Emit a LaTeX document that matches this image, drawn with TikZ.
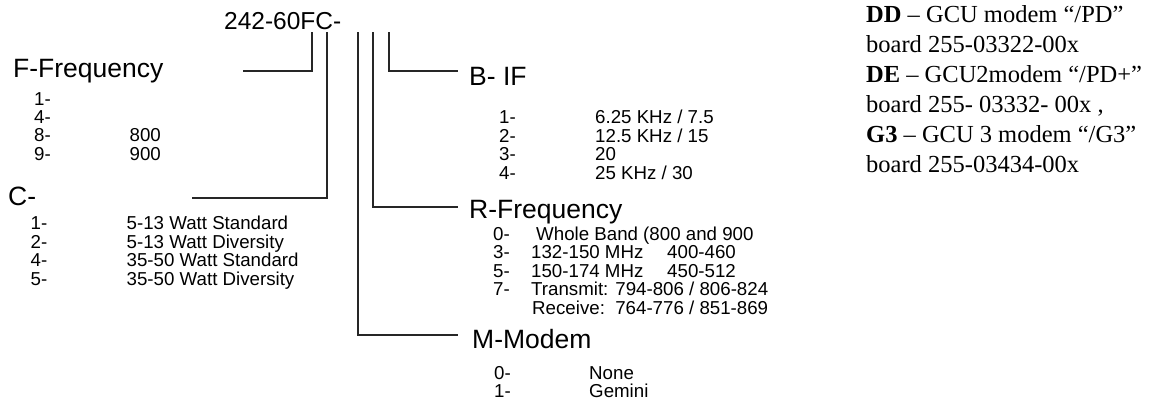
\documentclass[tikz,border=0pt]{standalone}
\usepackage{fontspec}
\setmainfont{Liberation Serif}
\setsansfont{Liberation Sans}
\begin{document}
\begin{tikzpicture}[x=1pt,y=-1pt,
  small/.style={inner sep=0pt, anchor=base west, font=\sffamily\fontsize{18.7}{18.7}\selectfont},
  head/.style={inner sep=0pt, anchor=base west, font=\sffamily\fontsize{26.5}{26.5}\selectfont},
  conn/.style={draw=black!85, line width=1.1pt},
  note/.style={inner sep=0pt, anchor=base west, font=\rmfamily\fontsize{24.5}{24.5}\selectfont}]
\useasboundingbox (0,0) rectangle (1173,400);
% title
\node[inner sep=0pt, anchor=base west, font=\sffamily\fontsize{24.5}{24.5}\selectfont] (title) at (224,29.5) {242-60FC-};
% headings
\node[head] (fhead) at (13,77) {F-Frequency};
\node[head] (chead) at (8,205.5) {C-};
\node[head] (bhead) at (469,85) {B- IF};
\node[head] (rhead) at (469,218) {R-Frequency};
\node[head] (mhead) at (472,348.5) {M-Modem};
% connector end points
\coordinate (tF) at (312,32);
\coordinate (tC) at (327,32);
\coordinate (tM) at (358,32);
\coordinate (tR) at (373,32);
\coordinate (tB) at (389,32);
\coordinate (eF) at (243,71);
\coordinate (eC) at (192,198);
\coordinate (eB) at (458,71);
\coordinate (eR) at (458,207);
\coordinate (eM) at (458,335);
\draw[conn] (tF) |- (eF);
\draw[conn] (tC) |- (eC);
\draw[conn] (tM) |- (eM);
\draw[conn] (tR) |- (eR);
\draw[conn] (tB) |- (eB);
% F list
\node[small] (f1) at (34,105) {1-};
\node[small] (f4) at (34,123.3) {4-};
\node[small] (f8) at (34,141.7) {8-};
\node[small] (f8v) at (129.5,141.7) {800};
\node[small] (f9) at (34,160) {9-};
\node[small] (f9v) at (129.5,160) {900};
% C list
\node[small] (c1) at (30.5,229.5) {1-};
\node[small] (c1v) at (126.5,229.5) {5-13 Watt Standard};
\node[small] (c2) at (30.5,248) {2-};
\node[small] (c2v) at (126.5,248) {5-13 Watt Diversity};
\node[small] (c4) at (30.5,266.5) {4-};
\node[small] (c4v) at (126.5,266.5) {35-50 Watt Standard};
\node[small] (c5) at (30.5,285) {5-};
\node[small] (c5v) at (126.5,285) {35-50 Watt Diversity};
% B list
\node[small] (b1) at (499,123.5) {1-};
\node[small] (b1v) at (595,123.5) {6.25 KHz / 7.5};
\node[small] (b2) at (499,142) {2-};
\node[small] (b2v) at (595,142) {12.5 KHz / 15};
\node[small] (b3) at (499,160.5) {3-};
\node[small] (b3v) at (595,160.5) {20};
\node[small] (b4) at (499,179) {4-};
\node[small] (b4v) at (595,179) {25 KHz / 30};
% R list
\node[small] (r0) at (493,240) {0-};
\node[small] (r0v) at (536,240) {Whole Band (800 and 900};
\node[small] (r3) at (493,258.5) {3-};
\node[small] (r3v) at (531,258.5) {132-150 MHz};
\node[small] (r3w) at (667,258.5) {400-460};
\node[small] (r5) at (493,277) {5-};
\node[small] (r5v) at (531,277) {150-174 MHz};
\node[small] (r5w) at (667,277) {450-512};
\node[small] (r7) at (493,295.5) {7-};
\node[small] (r7v) at (531,295.5) {Transmit: 794-806 / 806-824};
\node[small] (r7w) at (532,314) {Receive:\ \ 764-776 / 851-869};
% M list
\node[small] (m0) at (494,379.5) {0-};
\node[small] (m0v) at (589,379.5) {None};
\node[small] (m1) at (494,397) {1-};
\node[small] (m1v) at (589,397) {Gemini};
% notes
\node[note] (n1) at (866,22) {\textbf{DD} – GCU modem “/PD”};
\node[note] (n2) at (866,52) {board 255-03322-00x};
\node[note] (n3) at (866,82) {\textbf{DE} – GCU2modem “/PD+”};
\node[note] (n4) at (866,112) {board 255- 03332- 00x ,};
\node[note] (n5) at (866,142) {\textbf{G3} – GCU 3 modem “/G3”};
\node[note] (n6) at (866,172) {board 255-03434-00x};
\end{tikzpicture}
\end{document}
